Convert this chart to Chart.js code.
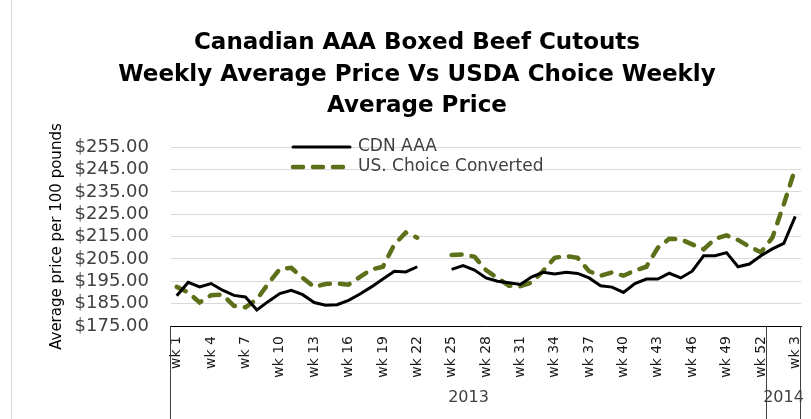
<!DOCTYPE html>
<html>
<head>
<meta charset="utf-8">
<title>Canadian AAA Boxed Beef Cutouts</title>
<script src="https://cdn.jsdelivr.net/npm/chart.js@4.4.1/dist/chart.umd.min.js"></script>
<style>
  html, body { margin: 0; padding: 0; background: #fff; }
  #wrap { width: 811px; height: 419px; position: relative; }
</style>
</head>
<body>
<div id="wrap"><canvas id="beefChart"></canvas></div>
<script>
// weeks: 52 of 2013, then 3 of 2014
const weekLabels = [
  'wk 1', 'wk 2', 'wk 3', 'wk 4', 'wk 5', 'wk 6', 'wk 7', 'wk 8', 'wk 9', 'wk 10',
  'wk 11', 'wk 12', 'wk 13', 'wk 14', 'wk 15', 'wk 16', 'wk 17', 'wk 18', 'wk 19', 'wk 20',
  'wk 21', 'wk 22', 'wk 23', 'wk 24', 'wk 25', 'wk 26', 'wk 27', 'wk 28', 'wk 29', 'wk 30',
  'wk 31', 'wk 32', 'wk 33', 'wk 34', 'wk 35', 'wk 36', 'wk 37', 'wk 38', 'wk 39', 'wk 40',
  'wk 41', 'wk 42', 'wk 43', 'wk 44', 'wk 45', 'wk 46', 'wk 47', 'wk 48', 'wk 49', 'wk 50',
  'wk 51', 'wk 52', 'wk 1', 'wk 2', 'wk 3'
];
const years = ['2013', '2014'];
const weeksPerYear = [52, 3];

const cdnAAA = [
  188.5, 194.5, 192.5, 194, 191, 188.7, 188, 182.2, 186, 189.5,
  191, 189, 185.5, 184.3, 184.5, 186.5, 189.3, 192.5, 196, 199.5,
  199.2, 201.5, null, null, 200.3, 202, 200, 196.5, 195, 194.3,
  193.6, 197, 199, 198.3, 199, 198.5, 196.5, 193, 192.4, 190,
  194, 196, 196, 198.6, 196.5, 199.5, 206.4, 206.4, 207.8, 201.5,
  202.7, 206.4, 209.5, 212, 224
];
const usChoice = [
  192.5, 190, 185.5, 188.8, 189, 184, 183.3, 187, 194, 200.5,
  201, 196.5, 192.5, 193.8, 194, 193.5, 197, 200.3, 201.5, 211.5,
  216.8, 214.5, null, null, 206.8, 207, 206, 200, 196.5, 193,
  192.8, 194.5, 199.7, 205.5, 206.3, 205.5, 199.5, 197.5, 199, 197.5,
  199.8, 201.5, 210, 214, 213.8, 211.5, 209.3, 214, 215.5, 213.5,
  210.5, 208, 214.5, 229.5, 245.5
];

const yMin = 175;
const yMax = 255;
const yStep = 10;

const black = '#000000';
const olive = '#5b7019';
const textGrey = '#404040';

Chart.defaults.font.family = '"DejaVu Sans", sans-serif';
Chart.defaults.color = textGrey;

// year boxes under the week labels + the in-plot legend
const extras = {
  id: 'extras',
  beforeDraw(chart) {
    const ctx = chart.ctx;
    ctx.save();
    ctx.strokeStyle = '#d9d9d9';
    ctx.lineWidth = 1;
    ctx.beginPath();
    ctx.moveTo(11.5, 0);
    ctx.lineTo(11.5, chart.height);
    ctx.stroke();
    ctx.restore();
  },
  afterDraw(chart) {
    const ctx = chart.ctx;
    const x = chart.scales.x;
    const area = chart.chartArea;
    const step = x.getPixelForValue(1) - x.getPixelForValue(0);

    ctx.save();
    ctx.strokeStyle = textGrey;
    ctx.lineWidth = 1;
    ctx.fillStyle = textGrey;
    ctx.font = '16px "DejaVu Sans"';
    ctx.textAlign = 'center';
    ctx.textBaseline = 'middle';

    const vline = (px) => {
      ctx.beginPath();
      ctx.moveTo(px, area.bottom);
      ctx.lineTo(px, chart.height);
      ctx.stroke();
    };

    let start = 0;
    let left = Math.round(x.getPixelForValue(0) - step / 2) - 0.5;
    vline(left);
    years.forEach((yr, k) => {
      const end = start + weeksPerYear[k];
      const right = Math.round(x.getPixelForValue(end - 1) + step / 2) - 0.5;
      vline(right);
      ctx.fillText(yr, (left + right) / 2, 398);
      left = right;
      start = end;
    });

    // legend
    const items = [
      { text: 'CDN AAA', color: black, dash: [], width: 3, y: 147 },
      { text: 'US. Choice Converted', color: olive, dash: [10, 10], width: 4.5, y: 167 }
    ];
    ctx.textAlign = 'left';
    ctx.font = '17px "DejaVu Sans"';
    items.forEach((it) => {
      ctx.strokeStyle = it.color;
      ctx.lineWidth = it.width;
      ctx.lineCap = 'round';
      ctx.setLineDash(it.dash);
      ctx.beginPath();
      ctx.moveTo(293, it.y);
      ctx.lineTo(350, it.y);
      ctx.stroke();
      ctx.setLineDash([]);
      ctx.fillText(it.text, 358, it.y);
    });
    ctx.restore();
  }
};

const ctx = document.getElementById('beefChart').getContext('2d');
new Chart(ctx, {
  type: 'line',
  data: {
    labels: weekLabels,
    datasets: [
      {
        label: 'CDN AAA',
        data: cdnAAA,
        borderColor: black,
        borderWidth: 3,
        pointRadius: 0,
        tension: 0,
        spanGaps: false
      },
      {
        label: 'US. Choice Converted',
        data: usChoice,
        borderColor: olive,
        borderWidth: 4.5,
        borderDash: [10, 10],
        borderCapStyle: 'round',
        pointRadius: 0,
        tension: 0,
        spanGaps: false
      }
    ]
  },
  options: {
    responsive: true,
    maintainAspectRatio: false,
    animation: false,
    events: [],
    layout: {
      padding: { left: 33, right: 10, top: 0, bottom: 0 }
    },
    scales: {
      x: {
        offset: true,
        grid: { display: false, drawTicks: false },
        border: { display: true, color: black, width: 1 },
        ticks: {
          autoSkip: false,
          maxRotation: 90,
          minRotation: 90,
          padding: 10,
          color: '#1a1a1a',
          font: { size: 14 },
          callback: function (value, index) {
            return index % 3 === 0 ? this.getLabelForValue(value) : '';
          }
        },
        afterFit: (scale) => {
          scale.height = 93;
          scale.paddingLeft = 0;
          scale.paddingRight = 0;
        }
      },
      y: {
        min: yMin,
        max: yMax,
        grid: { color: '#d9d9d9', drawTicks: false },
        border: { display: false },
        ticks: {
          autoSkip: false,
          stepSize: yStep,
          padding: 22,
          color: textGrey,
          font: { size: 18 },
          callback: (value) => '$' + value.toFixed(2)
        },
        title: {
          display: true,
          text: 'Average price per 100 pounds',
          color: black,
          font: { size: 15 },
          padding: { top: 15, bottom: 0 }
        },
        afterFit: (scale) => {
          scale.width = 138;
          scale.paddingTop = 0;
          scale.paddingBottom = 0;
        }
      }
    },
    plugins: {
      legend: { display: false },
      tooltip: { enabled: false },
      title: {
        display: true,
        text: [
          'Canadian AAA Boxed Beef Cutouts',
          'Weekly Average Price Vs USDA Choice Weekly',
          'Average Price'
        ],
        color: black,
        font: { size: 23, weight: 'bold', lineHeight: 1.35 },
        padding: { top: 28, bottom: 26 }
      }
    }
  },
  plugins: [extras]
});
</script>
</body>
</html>
